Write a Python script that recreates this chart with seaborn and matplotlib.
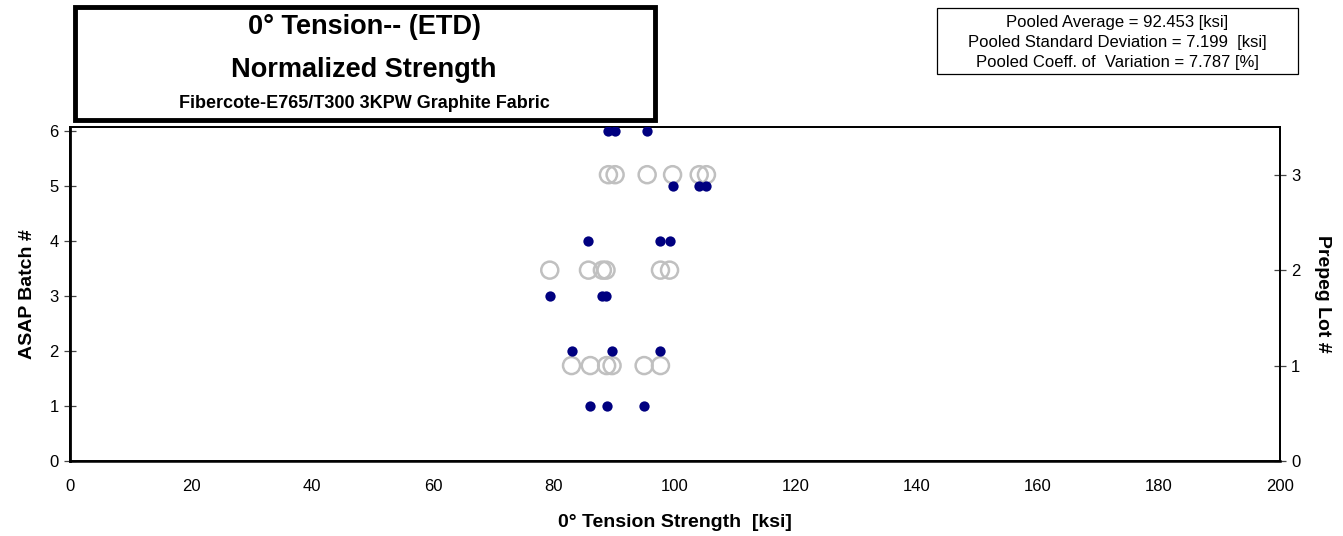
import matplotlib
matplotlib.use("Agg")
import matplotlib.pyplot as plt
import seaborn as sns
import pandas as pd
from matplotlib.patches import Rectangle

# Data: strength values by ASAP batch (left axis) and prepreg lot (right axis)
batch_ids = [1, 1, 1, 2, 2, 2, 3, 3, 3, 4, 4, 4, 5, 5, 5, 6, 6, 6]
batch_strength = [86.0, 88.7, 94.9, 82.9, 89.6, 97.6, 79.3, 88.0, 88.6,
                  85.7, 97.6, 99.1, 99.6, 104.0, 105.2, 89.0, 90.1, 95.4]
lot_ids = [1] * 6 + [2] * 6 + [3] * 6
lot_strength = batch_strength  # same specimens grouped by prepreg lot

x_ticks = [0, 20, 40, 60, 80, 100, 120, 140, 160, 180, 200]
left_ticks = [0, 1, 2, 3, 4, 5, 6]
right_ticks = [0, 1, 2, 3]

df_b = pd.DataFrame({"strength": batch_strength, "batch": batch_ids})
df_l = pd.DataFrame({"strength": lot_strength, "lot": lot_ids})

sns.set_theme(style="white")
plt.rcParams['font.family'] = ['Liberation Sans', 'DejaVu Sans']
plt.rcParams['text.color'] = 'black'
plt.rcParams['axes.labelcolor'] = 'black'

fig = plt.figure(figsize=(13.43, 5.36), dpi=100)
ax = fig.add_axes([0.0521, 0.1399, 0.9010, 0.6232])
ax2 = ax.twinx()

sns.scatterplot(data=df_l, x="strength", y="lot", ax=ax2, s=150, marker="o",
                facecolor="none", edgecolor="#C0C0C0", linewidth=1.8, zorder=2)
sns.scatterplot(data=df_b, x="strength", y="batch", ax=ax, s=55, marker="o",
                color="#000080", edgecolor="#000080", linewidth=0, zorder=3)

ax.set_zorder(ax2.get_zorder() + 1)
ax.patch.set_visible(False)

ax.set_xlim(0, 200)
ax.set_ylim(0, 6.07)
ax2.set_ylim(0, 3.5)
ax.set_xticks(x_ticks)
ax.set_yticks(left_ticks)
ax2.set_yticks(right_ticks)

for a in (ax, ax2):
    for sp in a.spines.values():
        sp.set_color("black")
        sp.set_linewidth(1.3)
    a.tick_params(axis="both", which="major", direction="inout", length=8,
                  width=0.9, color="#444444", labelsize=12, labelcolor="black", pad=4)
ax.tick_params(axis="x", pad=9)
ax.spines["left"].set_linewidth(2)
ax.spines["bottom"].set_linewidth(1.8)

ax.set_xlabel("0° Tension Strength  [ksi]", fontsize=14, fontweight="bold", labelpad=14)
ax.set_ylabel("ASAP Batch #", fontsize=14, fontweight="bold", labelpad=10)
ax2.set_ylabel("Prepeg Lot #", fontsize=14, fontweight="bold", rotation=-90, labelpad=22)
ax.grid(False)
ax2.grid(False)

# Title box
fig.patches.append(Rectangle((75 / 1343, 1 - 120 / 536), 580 / 1343, 113 / 536,
                             transform=fig.transFigure, facecolor="white",
                             edgecolor="black", linewidth=3.5, zorder=5))
fig.text(364 / 1343, 1 - 27 / 536, "0° Tension-- (ETD)", ha="center", va="center",
         fontsize=19.5, fontweight="bold", zorder=6)
fig.text(364 / 1343, 1 - 70 / 536, "Normalized Strength", ha="center", va="center",
         fontsize=19.5, fontweight="bold", zorder=6)
fig.text(364 / 1343, 1 - 104 / 536, "Fibercote-E765/T300 3KPW Graphite Fabric",
         ha="center", va="center", fontsize=13, fontweight="bold", zorder=6)

# Stats box
fig.patches.append(Rectangle((937 / 1343, 1 - 74 / 536), 361 / 1343, 66 / 536,
                             transform=fig.transFigure, facecolor="white",
                             edgecolor="black", linewidth=0.9, zorder=5))
stats = ["Pooled Average = 92.453 [ksi]",
         "Pooled Standard Deviation = 7.199  [ksi]",
         "Pooled Coeff. of  Variation = 7.787 [%]"]
for i, s in enumerate(stats):
    fig.text(1117 / 1343, 1 - (22 + 20.5 * i) / 536, s, ha="center", va="center",
             fontsize=12, zorder=6)

fig.savefig("out.png", dpi=100)
